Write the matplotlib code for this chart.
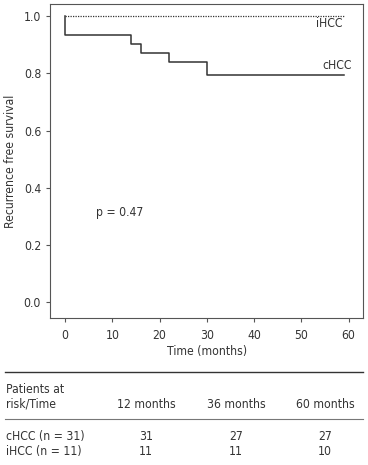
import matplotlib
matplotlib.use('Agg')
import matplotlib.pyplot as plt

plt.rcParams['font.family'] = ['DejaVu Sans']
plt.rcParams['font.stretch'] = 'condensed'
plt.rcParams['font.size'] = 8.7

# Kaplan-Meier steps
chcc_t = [0, 0, 14, 16, 22, 30, 59]
chcc_s = [1.0, 0.935, 0.903, 0.871, 0.839, 0.794, 0.794]
ihcc_t = [0, 59]
ihcc_s = [1.0, 1.0]

p_text = 'p = 0.47'
risk_cols = ['12 months', '36 months', '60 months']
risk_rows = ['cHCC (n = 31)', 'iHCC (n = 11)']
risk_vals = [[31, 27, 27], [11, 11, 10]]

ink = '#333333'
fig = plt.figure(figsize=(3.68, 4.65), dpi=100)
ax = fig.add_axes([0.136, 0.316, 0.851, 0.675])

ax.step(chcc_t, chcc_s, where='post', color=ink, lw=1.1)
ax.plot(ihcc_t, ihcc_s, color=ink, lw=0.9, ls=(0, (1, 1)))

ax.text(56.0, 0.975, 'iHCC', color=ink, ha='center', va='center')
ax.text(57.6, 0.826, 'cHCC', color=ink, ha='center', va='center')
ax.text(11.6, 0.315, p_text, color=ink, ha='center', va='center')

ax.set_xlim(-3.2, 63.1)
ax.set_ylim(-0.056, 1.042)
ax.set_xticks(range(0, 61, 10))
ax.set_yticks([0.0, 0.2, 0.4, 0.6, 0.8, 1.0])
ax.set_yticklabels(['0.0', '0.2', '0.4', '0.6', '0.8', '1.0'])
ax.set_xlabel('Time (months)', color=ink, labelpad=2)
ax.set_ylabel('Recurrence free survival', color=ink, labelpad=5)
for s in ax.spines.values():
    s.set_color('#555555')
ax.tick_params(colors=ink, length=3, color='#555555')
ax.tick_params(axis='x', pad=5)

# risk table underneath
H = 465.0
def fy(py):
    return 1 - py / H

fig.add_artist(plt.Line2D([5 / 368, 363 / 368], [fy(372), fy(372)], color=ink, lw=1.0))
fig.add_artist(plt.Line2D([5 / 368, 363 / 368], [fy(419), fy(419)], color='#777777', lw=0.8))
fig.text(6 / 368, fy(396.5), 'Patients at\nrisk/Time', color=ink, ha='left', va='center',
         linespacing=1.15)
col_x = [146, 236, 325]
for cx, lab in zip(col_x, risk_cols):
    fig.text(cx / 368, fy(404.5), lab, color=ink, ha='center', va='center')
for i, (rlab, vals) in enumerate(zip(risk_rows, risk_vals)):
    yy = fy(436 + 15 * i)
    fig.text(6 / 368, yy, rlab, color=ink, ha='left', va='center')
    for cx, v in zip(col_x, vals):
        fig.text(cx / 368, yy, str(v), color=ink, ha='center', va='center')

fig.savefig('out.png', dpi=100)
